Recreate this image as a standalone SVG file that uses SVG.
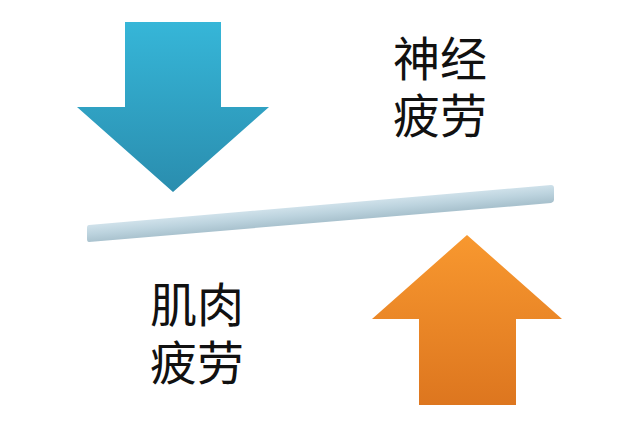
<svg xmlns="http://www.w3.org/2000/svg" width="640" height="429" viewBox="0 0 640 429">
<defs>
<linearGradient id="gBlue" x1="0" y1="0" x2="0" y2="1">
<stop offset="0" stop-color="#36B6D8"/>
<stop offset="1" stop-color="#2A8DAE"/>
</linearGradient>
<linearGradient id="gOrange" x1="0" y1="0" x2="0" y2="1">
<stop offset="0" stop-color="#F8982F"/>
<stop offset="1" stop-color="#DD761F"/>
</linearGradient>
<linearGradient id="gBar" gradientUnits="userSpaceOnUse" x1="320" y1="205" x2="321.5" y2="222">
<stop offset="0" stop-color="#CFE1EA"/>
<stop offset="0.5" stop-color="#BCD3DE"/>
<stop offset="1" stop-color="#A9C2CE"/>
</linearGradient>
<style>
.lbl{font-family:"Noto Sans CJK SC","Noto Sans",sans-serif;font-size:47px;fill:#111;}
</style>
</defs>
<rect width="640" height="429" fill="#fff"/>
<g id="arrow-down">
<polygon points="125,22 221,22 221,107 269,107 173,192 77,107 125,107" fill="url(#gBlue)"/>
</g>
<g id="arrow-up">
<polygon points="467,235 562,319 516,319 516,405 419,405 419,319 372,319" fill="url(#gOrange)"/>
</g>
<g id="bar">
<path d="M89,225 L551,185 Q554,185 554,188 L554,200 Q554,202 551,203 L89,242 Q87,242 87,239 L87,228 Q87,225 89,225 Z" fill="url(#gBar)"/>
</g>
<g id="label-nerve">
<text class="lbl" x="393" y="76">神经</text>
<text class="lbl" x="393" y="133">疲劳</text>
</g>
<g id="label-muscle">
<text class="lbl" x="150" y="322">肌肉</text>
<text class="lbl" x="150" y="380">疲劳</text>
</g>
<g id="connectors"></g>
</svg>
